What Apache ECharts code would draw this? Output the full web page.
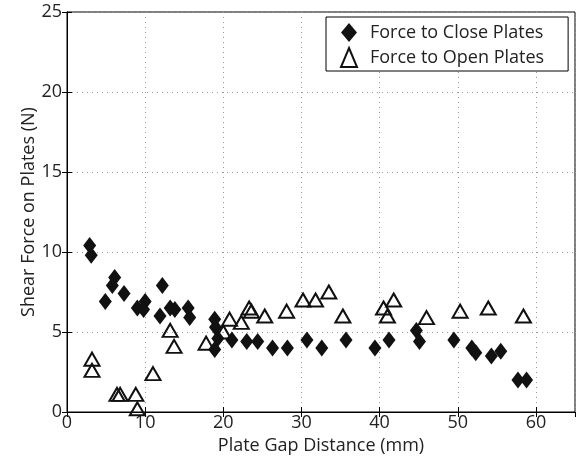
<!DOCTYPE html>
<html>
<head>
<meta charset="utf-8">
<script src="https://cdn.jsdelivr.net/npm/echarts@6/dist/echarts.min.js"></script>
<style>html,body{margin:0;padding:0;background:#fff}</style>
</head>
<body>
<div id="chart" style="width:579px;height:462px"></div>
<script>
// plate gap distance (mm) vs shear force (N)
var closeX = [2.9, 3.1, 4.9, 6.1, 5.8, 7.3, 9.0, 10.0, 9.8, 12.2, 11.9, 13.2, 13.8, 15.5, 15.7,
              18.9, 19.0, 19.3, 18.9, 21.1, 23.0, 24.4, 26.3, 28.2, 30.7, 32.6, 35.7, 39.4,
              41.2, 44.7, 45.1, 49.5, 51.8, 52.3, 54.3, 55.5, 57.7, 58.8];
var closeY = [10.4, 9.8, 6.9, 8.4, 7.9, 7.4, 6.5, 6.9, 6.4, 7.9, 6.0, 6.5, 6.4, 6.5, 5.9,
              5.8, 5.3, 4.6, 3.9, 4.5, 4.4, 4.4, 4.0, 4.0, 4.5, 4.0, 4.5, 4.0,
              4.5, 5.1, 4.4, 4.5, 4.0, 3.7, 3.5, 3.8, 2.0, 2.0];
var openX = [3.2, 3.2, 6.4, 6.8, 8.8, 9.0, 11.0, 13.2, 13.7, 17.8, 20.0, 20.8, 22.3, 23.3, 23.6,
             25.3, 28.1, 30.2, 31.8, 33.5, 35.3, 40.5, 41.0, 41.8, 46.0, 50.3, 53.9, 58.4];
var openY = [3.3, 2.6, 1.1, 1.1, 1.1, 0.2, 2.4, 5.1, 4.1, 4.3, 5.0, 5.8, 5.6, 6.5, 6.3,
             6.0, 6.3, 7.0, 7.0, 7.5, 6.0, 6.5, 6.0, 7.0, 5.9, 6.3, 6.5, 6.0];
var seriesNames = ['Force to Close Plates', 'Force to Open Plates'];

function pairs(xs, ys) {
    return xs.map(function (x, i) { return [x, ys[i]]; });
}

var font = 'Open Sans';
var fs = 18;
var chart = echarts.init(document.getElementById('chart'));

var gridLine = { show: true, lineStyle: { color: '#999', type: [1, 4], width: 1 } };

chart.setOption({
    animation: false,
    backgroundColor: '#fff',
    textStyle: { fontFamily: font },
    grid: { left: 67, right: 4, top: 12, bottom: 50, show: true, borderColor: '#000', borderWidth: 1 },
    legend: {
        left: 326, top: 17, orient: 'vertical',
        padding: [6, 24, 3, 14],
        itemGap: 5,
        itemWidth: 16, itemHeight: 19,
        borderColor: '#000', borderWidth: 1, backgroundColor: '#fff',
        textStyle: { fontFamily: font, fontSize: fs, color: '#222', padding: [0, 0, 0, 8] },
        data: seriesNames
    },
    xAxis: [{
        type: 'value', min: 0, max: 65, interval: 10,
        name: 'Plate Gap Distance (mm)', nameLocation: 'middle', nameGap: 25,
        nameMoveOverlap: false,
        nameTextStyle: { fontFamily: font, fontSize: fs, color: '#222' },
        axisLine: { lineStyle: { color: '#000' } },
        axisTick: { inside: true, length: 5, lineStyle: { color: '#000' } },
        axisLabel: { fontFamily: font, fontSize: fs, color: '#222', margin: 2, showMaxLabel: false },
        splitLine: gridLine
    }, {
        type: 'value', min: 0, max: 65, interval: 10, position: 'top',
        axisLine: { lineStyle: { color: '#000' } },
        axisTick: { inside: true, length: 5, lineStyle: { color: '#000' } },
        axisLabel: { show: false }, splitLine: { show: false }
    }],
    yAxis: [{
        type: 'value', min: 0, max: 25, interval: 5,
        name: 'Shear Force on Plates (N)', nameLocation: 'middle', nameGap: 29,
        nameMoveOverlap: false,
        nameTextStyle: { fontFamily: font, fontSize: fs, color: '#222' },
        axisLine: { show: true, lineStyle: { color: '#000' } },
        axisTick: { show: true, inside: true, length: 5, lineStyle: { color: '#000' } },
        axisLabel: { fontFamily: font, fontSize: fs, color: '#222', margin: 5 },
        splitLine: gridLine
    }, {
        type: 'value', min: 0, max: 25, interval: 5, position: 'right',
        axisLine: { show: true, lineStyle: { color: '#000' } },
        axisTick: { show: true, inside: true, length: 5, lineStyle: { color: '#000' } },
        axisLabel: { show: false }, splitLine: { show: false }
    }],
    series: [{
        name: seriesNames[0], type: 'scatter',
        symbol: 'diamond', symbolSize: [13, 17],
        itemStyle: { color: '#111', opacity: 1 },
        data: pairs(closeX, closeY)
    }, {
        name: seriesNames[1], type: 'scatter',
        symbol: 'triangle', symbolSize: [15, 13],
        itemStyle: { color: 'rgba(255,255,255,0)', borderColor: '#111', borderWidth: 2, opacity: 1 },
        data: pairs(openX, openY)
    }]
});
</script>
</body>
</html>
